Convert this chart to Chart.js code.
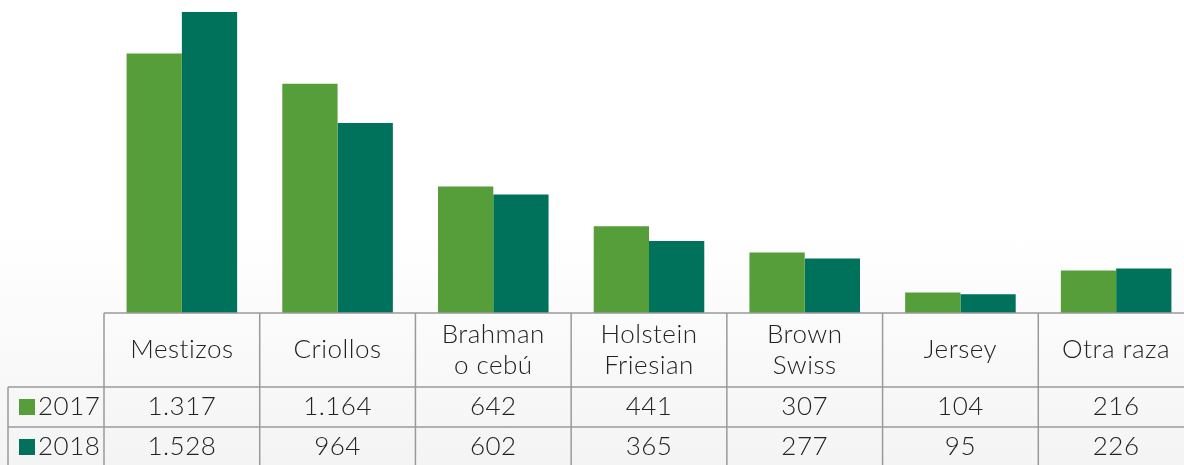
<!DOCTYPE html>
<html>
<head>
<meta charset="utf-8">
<script src="https://cdn.jsdelivr.net/npm/chart.js@4"></script>
<style>
  html, body { margin: 0; padding: 0; overflow: hidden; }
  body {
    width: 1184px;
    height: 465px;
    background: linear-gradient(to bottom, #ffffff 0%, #ffffff 50%, #f3f4f3 100%);
  }
  #wrap { position: relative; width: 1200px; height: 465px; }
</style>
</head>
<body>
<div id="wrap"><canvas id="razasChart" width="1200" height="465"></canvas></div>
<script>
const razas = [["Mestizos"], ["Criollos"], ["Brahman", "o cebú"], ["Holstein", "Friesian"], ["Brown", "Swiss"], ["Jersey"], ["Otra raza"]];
const years = ["2017", "2018"];
const valores2017 = [1317, 1164, 642, 441, 307, 104, 216];
const valores2018 = [1528, 964, 602, 365, 277, 95, 226];
const colores = ["#559e3a", "#00715a"];

const series = [valores2017, valores2018];

// miles con punto, como en la tabla
function fmt(n) {
  return n.toLocaleString("de-DE");
}

const tablaDatos = {
  id: "tablaDatos",
  afterDraw(chart) {
    const ctx = chart.ctx;
    const x = chart.scales.x;
    const top = chart.chartArea.bottom;
    const headerBottom = top + 74;
    const rowH = 40;
    const bottom = chart.height + 2;
    const n = razas.length;
    const step = x.getPixelForValue(1) - x.getPixelForValue(0);
    const left = x.getPixelForValue(0) - step / 2;
    const right = x.getPixelForValue(n - 1) + step / 2;
    const legendLeft = 8;

    ctx.save();
    ctx.strokeStyle = "#9a9a9a";
    ctx.lineWidth = 1.5;
    ctx.beginPath();
    ctx.moveTo(left, top);
    ctx.lineTo(right, top);
    for (let r = 0; r < 2; r++) {
      const y = headerBottom + r * rowH;
      ctx.moveTo(legendLeft, y);
      ctx.lineTo(right, y);
    }
    for (let i = 0; i <= n; i++) {
      const xx = left + i * step;
      ctx.moveTo(xx, top);
      ctx.lineTo(xx, bottom);
    }
    ctx.moveTo(legendLeft, headerBottom);
    ctx.lineTo(legendLeft, bottom);
    ctx.stroke();

    ctx.fillStyle = "#222222";
    ctx.font = "300 26px Lato";
    ctx.letterSpacing = "0.5px";
    ctx.textAlign = "center";
    ctx.textBaseline = "middle";
    razas.forEach((lines, i) => {
      const cx = x.getPixelForValue(i);
      const mid = (top + headerBottom) / 2;
      const lh = 31;
      lines.forEach((t, j) => {
        ctx.fillText(t, cx, mid + (j - (lines.length - 1) / 2) * lh);
      });
    });

    series.forEach((vals, r) => {
      const cy = headerBottom + r * rowH + rowH / 2;
      vals.forEach((v, i) => {
        ctx.fillStyle = "#222222";
        ctx.fillText(fmt(v), x.getPixelForValue(i), cy);
      });
      ctx.fillStyle = colores[r];
      ctx.fillRect(19, cy - 8, 16, 16);
      ctx.fillStyle = "#222222";
      ctx.textAlign = "left";
      ctx.fillText(years[r], 38, cy);
      ctx.textAlign = "center";
    });
    ctx.restore();
  }
};

new Chart(document.getElementById("razasChart"), {
  type: "bar",
  data: {
    labels: razas.map((l) => l.join(" ")),
    datasets: years.map((y, i) => ({
      label: y,
      data: series[i],
      backgroundColor: colores[i],
      borderWidth: 0,
      categoryPercentage: 0.71,
      barPercentage: 1,
    })),
  },
  options: {
    responsive: false,
    animation: false,
    layout: { padding: { left: 104, right: 6, top: 12, bottom: 152 } },
    scales: {
      x: { display: false },
      y: { display: false, min: 0, max: 1528 },
    },
    plugins: {
      legend: { display: false },
      tooltip: { enabled: false },
    },
  },
  plugins: [tablaDatos],
});
</script>
</body>
</html>
